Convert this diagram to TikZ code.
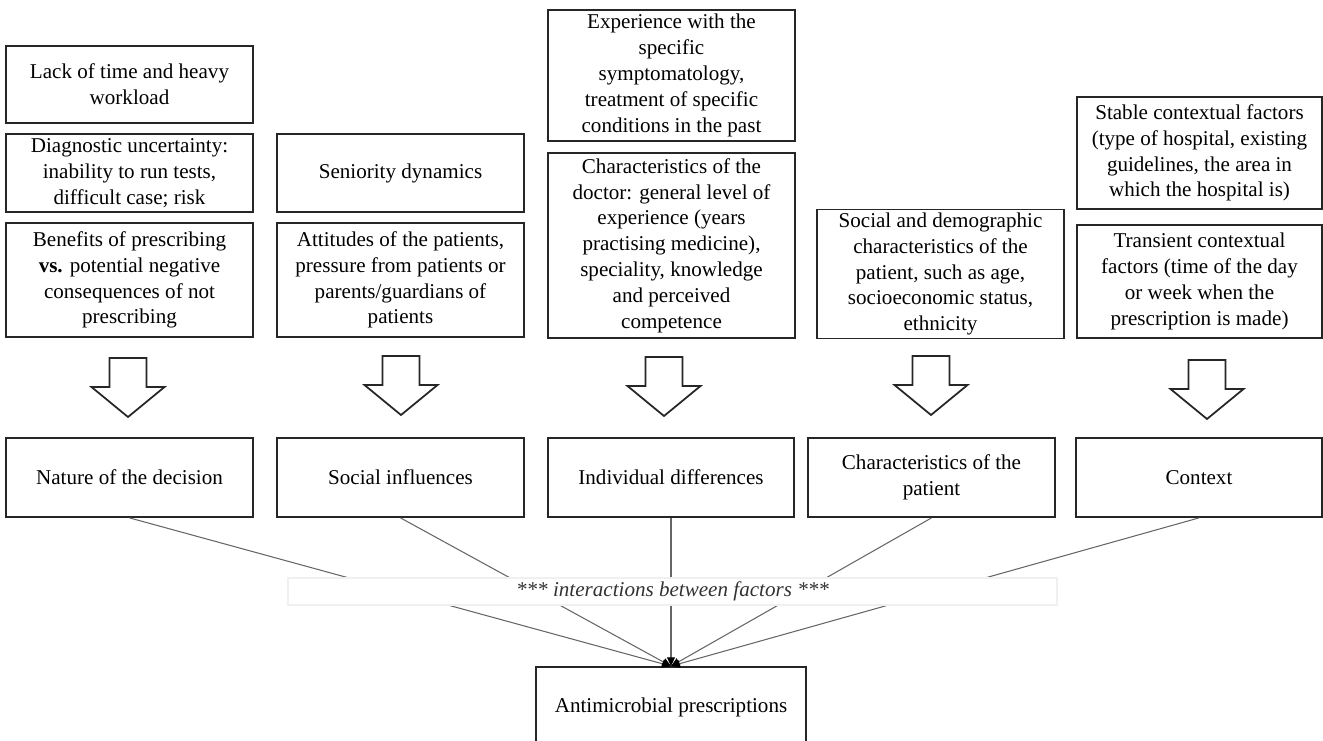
\documentclass[tikz,border=0pt]{standalone}
\usepackage{fontspec}
\setmainfont{Liberation Serif}
\usetikzlibrary{arrows.meta}

\begin{document}
\begin{tikzpicture}[
    x=0.02cm, y=-0.02cm,
    fact node/.style 2 args={rectangle, draw=black!85, line width=1pt, fill=white, align=center, inner sep=1pt,
        minimum width=#1*0.02cm, minimum height=#2*0.02cm, font=\fontsize{12}{14.7}\selectfont},
    band node/.style={rectangle, draw=gray!12, line width=0.6pt, fill=white, inner sep=0pt,
        minimum width=769*0.02cm, minimum height=27*0.02cm, font=\fontsize{12}{14.7}\selectfont\itshape, text=black!80},
    block arrow/.style={draw=black!85, line width=1pt, fill=white, line join=miter},
    link edge/.style={draw=black!60, line width=0.6pt, -{Triangle[length=5pt, width=4.5pt, color=black]}}
]
\useasboundingbox (0,0) rectangle (1323,741);

% factors
\node[fact node={247}{77}]  (lack)   at (129.5, 84.5) {Lack of time and heavy\\workload};
\node[fact node={247}{78}]  (diag)   at (129.5, 173)  {Diagnostic uncertainty:\\inability to run tests,\\difficult case; risk};
\node[fact node={247}{114}] (bene)   at (129.5, 280)  {Benefits of prescribing\\\textbf{vs.} potential negative\\consequences of not\\prescribing};
\node[fact node={247}{78}]  (senior) at (400.5, 173)  {Seniority dynamics};
\node[fact node={247}{114}] (attit)  at (400.5, 280)  {Attitudes of the patients,\\pressure from patients or\\parents/guardians of\\patients};
\node[fact node={247}{131}] (exper)  at (671.5, 75.5) {Experience with the\\specific\\symptomatology,\\treatment of specific\\conditions in the past};
\node[fact node={247}{185}] (doctor) at (671.5, 245.5) {Characteristics of the\\doctor: general level of\\experience (years\\practising medicine),\\speciality, knowledge\\and perceived\\competence};
\node[fact node={247}{129}] (demog)  at (940.5, 274)  {Social and demographic\\characteristics of the\\patient, such as age,\\socioeconomic status,\\ethnicity};
\node[fact node={245}{112}] (stable) at (1199.5, 153) {Stable contextual factors\\(type of hospital, existing\\guidelines, the area in\\which the hospital is)};
\node[fact node={245}{113}] (trans)  at (1199.5, 281.5) {Transient contextual\\factors (time of the day\\or week when the\\prescription is made)};

% groups
\node[fact node={247}{79}] (nature)  at (129.5, 477.5) {Nature of the decision};
\node[fact node={247}{79}] (social)  at (400.5, 477.5) {Social influences};
\node[fact node={246}{79}] (indiv)   at (671, 477.5)   {Individual differences};
\node[fact node={247}{79}] (patient) at (931.5, 477.5) {Characteristics of the\\patient};
\node[fact node={246}{79}] (context) at (1199, 477.5)  {Context};

\node[fact node={270}{80}] (anti) at (671, 707) {Antimicrobial prescriptions};

% block arrows
\foreach \cx/\ty in {128/358, 401/356, 664/357, 931/356, 1207/360}
    \draw[block arrow] (\cx-18.5,\ty) -- (\cx+18.5,\ty) -- (\cx+18.5,\ty+29) -- (\cx+36.5,\ty+29)
        -- (\cx,\ty+59) -- (\cx-36.5,\ty+29) -- (\cx-18.5,\ty+29) -- cycle;

% links
\foreach \g in {nature, social, indiv, patient, context}
    \draw[link edge] (\g.south) -- (anti.north);

\node[band node] (inter) at (672.5, 591.5) {*** interactions between factors ***};

\end{tikzpicture}
\end{document}
